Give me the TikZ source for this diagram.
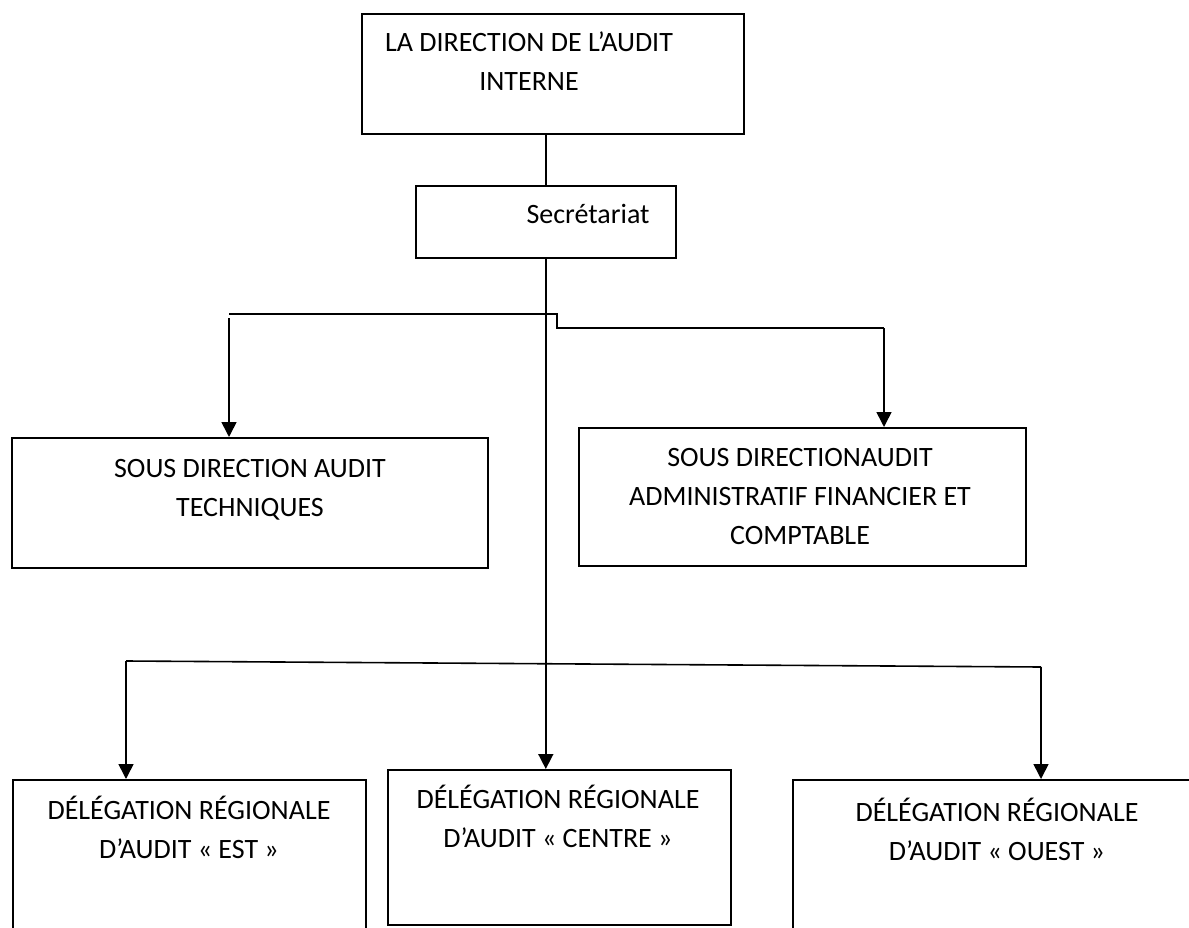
\documentclass[tikz,border=0pt]{standalone}
\usepackage{fontspec}
\setmainfont{Carlito}
\usetikzlibrary{arrows.meta}
\begin{document}
\begin{tikzpicture}[x=1pt,y=-1pt,
  box/.style={draw, line width=1.6pt, rectangle, anchor=north west, inner sep=0pt},
  conn/.style={line width=1.6pt},
  arr/.style={line width=1.6pt, -{Triangle[length=15pt,width=15pt]}},
  lbl/.style={font=\fontsize{28}{39}\selectfont, align=center, anchor=base, inner sep=0pt}]
\clip (0,0) rectangle (1189,928);
\fill[white] (0,0) rectangle (1189,928);
% boxes
\node[box, minimum width=382pt, minimum height=120pt] (dir) at (361,13) {};
\node[box, minimum width=260pt, minimum height=72pt] (sec) at (415,185) {};
\node[box, minimum width=476pt, minimum height=130pt] (sdt) at (11,437) {};
\node[box, minimum width=447pt, minimum height=138pt] (sda) at (578,427) {};
\node[box, minimum width=353pt, minimum height=170pt] (est) at (12,779) {};
\node[box, minimum width=343pt, minimum height=155pt] (cen) at (387,769) {};
\node[box, minimum width=420pt, minimum height=170pt] (oue) at (792,779) {};
% labels (anchor = baseline of the last line)
\node[lbl] (tdir) at (529,91) {LA DIRECTION DE L’AUDIT\\INTERNE};
\node[lbl] (tsec) at (588,224) {Secrétariat};
\node[lbl] (tsdt) at (250,516) {SOUS DIRECTION AUDIT\\TECHNIQUES};
\node[lbl] (tsda) at (800,544) {SOUS DIRECTIONAUDIT\\ADMINISTRATIF FINANCIER ET\\COMPTABLE};
\node[lbl] (test) at (189,858) {DÉLÉGATION RÉGIONALE\\D’AUDIT « EST »};
\node[lbl] (tcen) at (558,847) {DÉLÉGATION RÉGIONALE\\D’AUDIT « CENTRE »};
\node[lbl] (toue) at (997,860) {DÉLÉGATION RÉGIONALE\\D’AUDIT « OUEST »};
% connectors
\draw[conn] (sec.north |- dir.south) -- (sec.north);
\draw[arr] (sec.south) -- (sec.south |- cen.north);
\coordinate (b1) at (229,314);
\coordinate (b2) at (557,314);
\coordinate (b3) at (557,328);
\coordinate (b4) at (884,328);
\coordinate (a1) at (229,318);
\draw[conn] (b1) -- (b2) -- (b3) -- (b4);
\draw[arr] (a1) -- (a1 |- sdt.north);
\draw[arr] (b4) -- (b4 |- sda.north);
\coordinate (c1) at (126,661);
\coordinate (c2) at (1041,667);
\draw[conn] (c1) -- (c2);
\draw[arr] (c1) -- (c1 |- est.north);
\draw[arr] (c2) -- (c2 |- oue.north);
\end{tikzpicture}
\end{document}
